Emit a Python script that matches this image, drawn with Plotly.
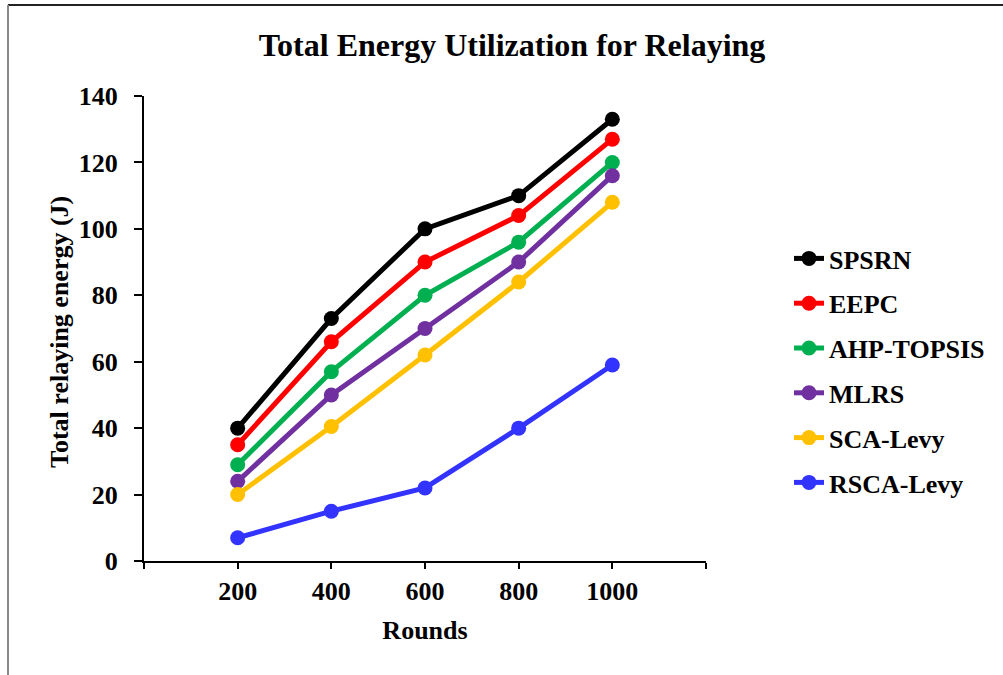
import plotly.graph_objects as go

rounds = [200, 400, 600, 800, 1000]
series_names = ["SPSRN", "EEPC", "AHP-TOPSIS", "MLRS", "SCA-Levy", "RSCA-Levy"]
spsrn = [40, 73, 100, 110, 133]
eepc = [35, 66, 90, 104, 127]
ahp_topsis = [29, 57, 80, 96, 120]
mlrs = [24, 50, 70, 90, 116]
sca_levy = [20, 40.5, 62, 84, 108]
rsca_levy = [7, 15, 22, 40, 59]
colors = ["#000000", "#FF0000", "#00B050", "#7030A0", "#FFC000", "#3333FF"]
x_tickvals = [0, 200, 400, 600, 800, 1000, 1200]
x_ticktext = ["", "200", "400", "600", "800", "1000", ""]

FONT = "Liberation Serif"
W, H = 1003, 675
L, R, T, B = 144, 297, 96, 114

fig = go.Figure()
for name, vals, col in zip(series_names, [spsrn, eepc, ahp_topsis, mlrs, sca_levy, rsca_levy], colors):
    fig.add_trace(go.Scatter(
        x=rounds, y=vals, name=name, mode="lines+markers",
        line=dict(color=col, width=5), marker=dict(color=col, size=15),
        legendgroup=name,
    ))

pw = W - L - R
ph = H - T - B
def px_x(p):
    return (p - L) / pw
def px_y(p):
    return (H - B - p) / ph

fig.update_layout(
    width=W, height=H,
    margin=dict(l=L, r=R, t=T, b=B, autoexpand=False),
    paper_bgcolor="white", plot_bgcolor="white",
    font=dict(family=FONT, color="black", size=26),
    title=dict(text="<b>Total Energy Utilization for Relaying</b>",
               x=px_x(512), xref="paper", xanchor="center",
               y=1 - 45 / H, yanchor="middle", yref="container",
               font=dict(size=32, family=FONT, color="black")),
    xaxis=dict(range=[0, 1200], tickvals=x_tickvals, ticktext=x_ticktext,
               showline=True, linecolor="black", linewidth=2,
               ticks="outside", ticklen=6, tickwidth=2, tickcolor="black",
               showgrid=False, zeroline=False, ticklabelstandoff=0,
               tickfont=dict(size=26, family=FONT, color="black", weight="bold"),
               title=dict(text="<b>Rounds</b>", standoff=16,
                          font=dict(size=26, family=FONT, color="black"))),
    yaxis=dict(range=[0, 140], dtick=20, tick0=0,
               showline=True, linecolor="black", linewidth=2,
               ticks="outside", ticklen=8, tickwidth=2, tickcolor="black",
               showgrid=False, zeroline=False, ticklabelstandoff=11,
               tickfont=dict(size=26, family=FONT, color="black", weight="bold")),
    legend=dict(x=px_x(789), xanchor="left", y=px_y(235), yanchor="top",
                font=dict(size=26, family=FONT, color="black", weight="bold"),
                tracegroupgap=8, bgcolor="rgba(0,0,0,0)", itemwidth=30),
    showlegend=True,
)

# y-axis title
fig.add_annotation(text="<b>Total relaying energy (J)</b>", textangle=-90,
                   xref="paper", yref="paper", x=px_x(59), y=px_y(332),
                   xanchor="center", yanchor="middle", showarrow=False,
                   font=dict(size=26, family=FONT, color="black"))

# outer frame (top and left edges visible in the reference)
fig.add_shape(type="line", xref="paper", yref="paper",
              x0=px_x(8), x1=px_x(1003), y0=px_y(5), y1=px_y(5),
              line=dict(color="#222222", width=2))
fig.add_shape(type="line", xref="paper", yref="paper",
              x0=px_x(8), x1=px_x(8), y0=px_y(5), y1=px_y(675),
              line=dict(color="#888888", width=2))

fig.write_html("out.html")
